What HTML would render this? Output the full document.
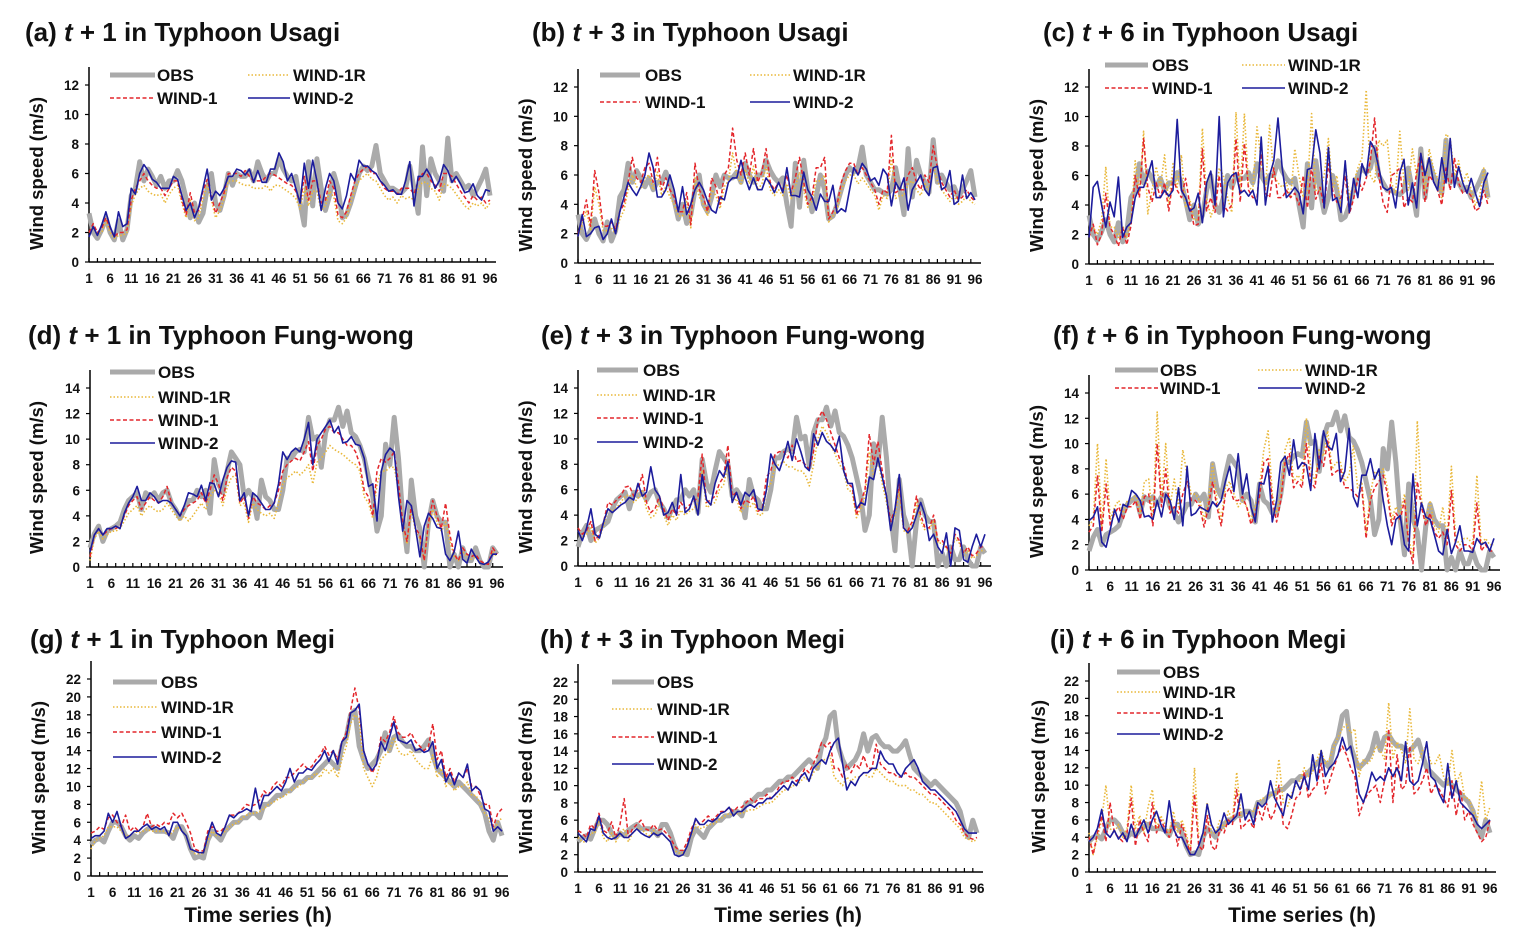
<!DOCTYPE html>
<html><head><meta charset="utf-8"><style>
html,body{margin:0;padding:0;background:#fff;}
svg{display:block;font-family:"Liberation Sans",Arial,sans-serif;}
.ttl{font-size:26px;font-weight:bold;fill:#111;}
.tk{font-size:13.5px;font-weight:bold;fill:#111;}
.yt{font-size:18.5px;font-weight:bold;fill:#111;}
.lg{font-size:17px;font-weight:bold;fill:#111;}
.xt{font-size:21px;font-weight:bold;fill:#111;}
</style></head><body>
<svg id="fig" width="1518" height="936" viewBox="0 0 1518 936" xmlns="http://www.w3.org/2000/svg"></svg>
<script>
// ---- Observed series per typhoon ----
const obsUsagi=[3.3,2.0,1.6,2.2,3.0,2.0,1.5,2.8,1.5,2.2,4.5,5.0,6.8,5.5,6.3,5.8,5.2,5.8,5.0,5.5,5.5,6.2,5.5,4.3,3.0,4.0,2.7,3.3,5.0,6.0,4.0,3.5,4.5,6.0,5.2,6.0,5.8,5.8,6.2,5.5,6.8,6.0,5.5,6.0,6.0,7.0,6.3,5.8,5.5,5.8,4.0,2.5,6.8,3.8,7.0,5.0,3.5,4.5,6.0,5.0,3.0,3.2,4.0,5.0,6.0,6.5,6.2,6.5,7.9,6.0,5.5,5.0,5.0,4.8,4.7,5.0,6.5,5.0,3.3,7.8,4.5,7.0,6.0,5.5,4.8,8.4,5.5,6.0,5.5,5.0,5.2,4.5,5.0,5.6,6.3,4.5];
const obsFung=[1.5,2.6,3.2,2.0,2.8,3.0,3.2,3.5,4.5,5.2,5.5,5.8,4.5,5.8,5.5,5.8,5.2,5.8,6.0,5.0,4.5,3.8,4.5,5.2,5.2,6.0,5.5,6.0,4.2,8.4,6.5,5.8,7.5,9.0,8.5,8.0,5.5,6.0,5.5,3.8,6.8,5.5,5.2,4.5,4.5,6.0,8.5,8.5,9.0,9.2,9.0,11.7,10.0,10.2,7.8,10.5,11.5,11.5,12.5,11.0,12.2,10.5,10.2,9.5,8.5,7.0,5.5,2.8,4.0,9.6,8.0,11.7,8.5,4.0,1.2,6.8,4.0,3.0,0.0,3.5,5.2,4.0,3.5,3.5,0.0,1.0,0.0,1.5,0.5,0.5,1.5,0.5,0.0,0.0,1.5,1.0];
const obsMegi=[3.5,4.0,4.2,3.8,5.0,6.0,6.0,5.5,4.5,4.0,4.5,4.2,4.8,5.2,5.5,5.0,5.0,5.0,4.8,4.2,5.5,5.5,4.5,3.0,2.0,2.2,2.0,4.0,5.0,4.5,4.0,5.0,5.5,6.0,6.0,6.5,6.5,7.0,7.0,6.5,8.0,8.0,8.5,9.0,9.0,9.5,9.5,10.0,10.5,10.5,11.0,11.0,11.5,12.0,12.5,13.0,12.5,12.0,14.5,15.5,18.0,18.5,14.5,13.0,12.0,12.5,13.0,14.0,16.0,14.0,15.5,15.8,15.0,14.5,14.5,14.0,14.0,14.5,15.2,13.5,12.0,11.5,11.0,10.5,10.0,10.5,10.0,9.5,9.0,8.5,8.0,7.0,5.0,4.0,6.0,4.5];
// ---- Panel (a) ----
const aW1R=[2.0,2.4,1.9,2.0,2.8,2.0,1.6,1.8,1.8,2.0,3.8,4.6,5.0,5.2,4.8,4.6,4.5,4.6,4.0,4.6,5.0,5.2,4.0,3.0,4.2,2.8,3.0,4.3,5.2,4.2,3.0,3.5,4.3,5.5,5.5,5.5,5.3,5.2,5.2,5.0,5.0,5.0,5.2,4.8,5.2,5.2,5.0,4.8,4.6,4.3,3.6,5.0,3.8,4.8,4.8,3.5,3.8,4.8,4.4,2.8,2.6,3.0,4.0,5.0,5.5,5.8,6.0,5.6,5.5,5.0,4.5,4.2,4.4,4.0,4.5,4.3,4.4,4.2,5.0,5.4,5.4,5.0,4.8,4.2,5.3,5.2,5.0,4.6,4.2,3.8,3.6,4.0,3.8,4.0,3.6,4.0];
const aW1=[2.0,2.6,2.0,2.3,3.0,2.3,1.7,2.0,2.0,2.2,4.2,5.0,5.5,6.0,5.5,5.2,5.0,5.0,4.5,5.0,5.5,5.5,4.2,3.2,4.7,3.3,3.5,4.8,5.6,4.5,3.3,4.0,4.7,6.0,6.0,6.0,5.8,6.2,5.8,5.5,5.5,5.5,5.8,6.0,5.9,5.7,5.5,5.3,5.2,4.8,4.0,5.8,4.2,5.5,5.5,4.0,4.2,5.5,5.0,3.2,3.0,3.4,4.5,5.5,6.0,6.3,6.5,6.0,6.0,5.5,5.0,4.8,4.8,4.6,5.0,5.0,5.0,4.6,5.5,6.0,6.0,5.5,5.2,4.8,6.0,6.0,5.8,5.3,4.8,4.4,4.0,4.5,4.2,4.4,4.0,4.2];
const aW2=[1.7,2.4,1.8,2.5,3.4,2.4,1.7,3.4,2.4,2.6,5.0,4.6,6.0,6.6,6.2,5.6,5.4,5.0,5.0,5.0,5.8,5.6,4.5,3.5,4.0,3.0,3.7,5.0,6.3,4.2,4.8,4.5,5.0,5.8,5.8,6.3,6.2,5.9,6.3,5.4,6.2,5.4,5.4,6.3,6.3,7.4,6.8,5.5,6.0,5.0,4.0,6.7,5.0,6.9,5.5,3.5,5.0,6.0,5.5,4.0,3.6,4.5,6.0,5.5,6.9,6.5,6.5,6.2,6.0,5.5,5.2,4.8,4.9,4.6,4.6,5.5,6.8,3.8,5.8,5.8,6.3,5.8,5.0,5.5,6.6,6.2,5.4,5.8,5.3,4.7,4.8,5.3,4.5,4.2,4.9,4.8];
// ---- Panel (b) ----
const bW1R=[1.8,2.6,3.6,2.2,5.2,4.0,2.2,2.2,2.4,2.0,3.0,3.6,5.0,6.0,5.2,5.0,5.8,6.0,5.0,6.2,4.6,5.2,4.5,4.0,3.2,3.2,4.2,2.4,5.8,4.5,4.0,3.2,5.0,4.6,3.7,5.2,5.6,7.5,6.0,5.4,6.4,5.4,6.6,5.0,5.4,6.6,5.0,4.6,5.0,4.6,5.4,4.4,5.2,6.2,5.0,3.8,4.2,5.6,5.6,6.0,2.8,3.2,3.6,5.0,5.6,6.0,6.0,5.4,5.8,5.4,5.0,4.6,3.6,4.6,4.4,7.2,4.4,4.6,4.6,5.4,5.6,5.0,4.6,5.4,5.0,6.6,5.6,5.0,4.6,4.2,4.6,4.0,4.2,4.6,4.2,4.0];
const bW1=[2.0,3.0,4.3,2.5,6.3,4.8,2.5,2.5,2.8,2.3,3.5,4.0,5.5,7.2,5.8,5.5,6.5,6.8,5.5,7.2,5.0,5.8,5.0,4.5,3.5,3.5,4.8,2.6,6.8,5.0,4.5,3.5,5.8,5.2,4.0,6.0,6.5,9.2,7.0,6.0,7.5,6.0,7.8,5.5,6.2,7.8,5.5,5.0,5.5,5.0,6.0,4.8,5.8,7.2,5.5,4.0,4.5,6.5,6.5,7.2,3.0,3.5,4.0,5.5,6.3,6.8,6.8,6.0,6.5,6.0,5.5,5.0,4.0,5.0,4.8,8.7,4.8,5.0,5.0,6.0,6.5,5.5,5.0,6.0,5.5,8.0,6.5,5.5,5.0,4.5,5.0,4.3,4.5,5.0,4.5,4.2];
const bW2=[1.8,3.3,1.8,2.0,2.4,2.5,1.6,2.0,3.0,2.0,3.5,4.5,5.5,5.0,4.6,5.2,6.0,7.5,6.5,4.5,4.5,5.0,6.0,5.0,3.5,5.2,3.3,4.0,5.0,5.5,5.0,4.2,3.6,3.4,4.5,4.3,5.5,5.8,5.8,7.0,5.8,5.0,5.8,5.0,5.0,5.8,5.4,4.8,5.5,4.8,6.5,4.6,4.6,4.5,6.2,5.0,4.5,3.6,4.7,4.2,4.2,5.3,3.4,3.7,3.5,5.0,6.5,6.0,6.8,6.4,5.6,5.8,5.3,6.4,6.0,3.9,5.5,5.0,5.8,3.6,5.0,5.5,6.0,5.0,4.6,6.5,6.6,5.0,5.2,6.3,4.0,4.2,6.0,4.4,4.8,4.3];
// ---- Panel (c) ----
const cW1R=[2.0,2.5,2.0,3.0,6.6,2.5,2.5,1.8,2.6,1.8,3.0,7.0,4.8,9.0,3.4,5.0,6.6,5.2,7.4,4.0,6.8,5.2,7.4,3.8,4.4,3.0,3.0,9.2,4.5,3.2,4.0,6.5,6.0,4.5,3.5,10.3,4.8,10.2,5.2,5.0,9.3,7.0,5.0,9.4,6.0,5.5,5.2,5.5,4.5,7.8,6.0,4.5,5.0,10.2,5.0,5.0,6.0,8.5,5.0,6.0,3.8,6.8,4.5,5.5,6.5,7.2,11.8,6.0,5.5,8.4,8.0,8.4,5.5,4.8,9.0,5.5,5.0,7.8,6.0,7.5,5.0,7.8,6.5,5.8,4.5,8.8,8.5,6.0,7.0,5.5,6.2,5.0,4.0,4.5,6.5,4.4];
const cW1=[1.8,2.7,1.3,2.0,4.8,2.5,2.0,1.2,2.5,1.3,2.6,6.0,4.5,8.5,5.2,4.2,5.5,4.5,5.5,3.6,5.8,5.0,4.5,5.8,4.0,2.6,2.7,7.8,3.6,4.5,3.5,6.0,4.0,3.6,4.0,8.5,4.2,8.2,5.0,4.5,4.5,7.5,4.8,4.5,6.5,4.5,4.5,5.0,4.5,4.8,4.0,6.0,3.8,6.6,4.4,5.2,3.8,6.8,5.0,4.2,4.5,6.0,3.4,4.4,5.8,5.0,5.8,7.0,9.9,6.0,4.2,3.5,6.0,6.2,6.5,3.8,4.5,4.2,6.2,7.5,4.2,6.0,5.6,5.0,4.0,6.5,5.0,7.2,5.5,4.8,5.0,4.6,3.6,3.8,5.0,4.0];
const cW2=[1.8,5.2,5.6,4.0,2.5,4.2,3.2,5.9,1.8,2.5,2.8,4.5,5.2,5.2,6.0,7.0,4.5,4.5,5.0,4.6,5.0,9.8,5.0,4.5,3.6,3.8,4.8,2.8,5.5,6.3,4.0,10.0,3.2,5.5,6.0,6.2,4.8,5.0,4.6,5.0,4.0,8.6,4.0,6.0,7.0,9.9,6.5,4.5,4.8,5.2,4.8,3.4,6.4,6.5,9.1,7.5,3.8,7.9,4.3,4.5,3.5,7.0,3.5,5.8,4.5,6.8,6.0,8.3,7.8,6.5,5.2,5.0,5.2,3.8,6.2,7.1,4.0,5.5,3.8,7.5,6.0,7.2,5.6,5.0,7.2,5.5,8.5,5.2,6.6,5.5,4.8,5.8,4.8,3.9,5.5,6.2];
// ---- Panel (d) ----
const dW1R=[0.5,2.2,2.8,2.2,2.5,2.8,2.8,3.0,3.6,4.2,4.5,4.8,4.0,4.5,4.8,4.5,4.3,4.5,5.0,4.5,4.0,3.6,4.0,3.6,4.0,4.5,5.0,4.5,5.5,6.0,5.8,4.8,6.2,7.0,7.2,4.8,5.0,3.5,5.0,4.5,4.2,4.0,4.2,3.8,5.0,6.5,7.0,7.2,7.5,7.2,7.5,8.0,6.5,8.2,8.5,9.0,9.5,9.2,9.0,8.8,8.5,8.2,8.0,7.5,5.5,5.0,3.8,6.5,7.5,7.5,7.8,7.8,6.0,3.2,1.8,4.5,2.8,2.2,0.5,3.2,4.5,3.5,2.8,3.5,2.0,0.8,0.5,1.2,0.8,0.6,0.8,0.4,0.2,0.2,1.2,0.8];
const dW1=[0.8,2.5,3.0,2.5,2.8,3.0,3.0,3.2,4.0,4.8,5.2,5.5,4.5,5.0,5.5,5.2,5.0,5.5,6.3,5.0,4.5,4.0,4.5,4.8,5.0,5.2,5.8,5.0,6.0,7.2,6.5,5.2,7.0,7.8,7.5,5.0,5.5,3.8,5.5,5.0,4.8,4.5,4.8,5.0,6.0,7.5,8.0,8.3,8.5,8.3,9.0,9.8,7.5,9.5,10.0,10.8,11.0,10.5,10.5,10.0,9.5,9.5,9.0,8.0,6.0,5.5,4.0,7.5,8.5,8.2,8.5,9.0,6.5,3.5,2.0,4.8,3.0,2.5,0.5,3.5,5.2,4.0,3.0,5.0,2.5,1.0,0.5,1.5,1.0,0.8,1.0,0.5,0.3,0.2,1.5,1.0];
const dW2=[1.2,2.5,3.0,2.5,3.0,3.0,3.2,3.0,4.2,5.0,5.5,6.3,5.2,5.2,5.8,5.5,5.0,5.2,5.2,5.0,4.5,4.0,4.8,5.8,5.7,5.5,6.4,5.2,6.6,6.5,5.5,6.8,7.8,8.3,8.2,5.2,5.8,4.0,5.8,5.5,5.0,4.5,4.5,5.0,6.5,9.0,8.4,9.0,9.3,9.0,10.0,11.3,8.0,10.0,10.5,11.0,11.5,10.5,11.0,9.7,9.8,10.2,9.6,9.5,8.5,6.3,6.5,3.6,7.5,8.8,9.3,9.0,5.5,2.8,5.2,4.8,3.0,0.8,3.2,4.2,3.8,3.1,3.0,1.0,0.5,1.2,2.8,0.6,0.3,1.4,0.8,0.3,0.2,0.4,1.0,1.0];
// ---- Panel (e) ----
const eW1R=[2.8,2.2,2.5,3.0,1.8,2.2,3.2,4.5,4.3,4.6,5.0,5.5,5.6,5.0,5.3,6.0,4.5,3.8,4.0,5.0,4.0,3.2,4.0,3.6,4.4,4.0,4.3,4.5,5.0,7.5,4.6,4.8,5.0,6.0,6.4,8.0,5.0,5.3,4.2,4.8,4.6,5.0,4.0,4.0,6.0,6.5,7.8,8.0,8.2,7.8,7.8,7.5,7.5,7.2,6.3,8.0,10.0,11.0,10.5,9.5,8.8,8.0,7.5,6.0,5.8,3.8,4.5,5.5,9.0,7.0,8.5,6.5,5.0,3.2,4.0,5.8,2.8,2.5,3.2,5.0,3.6,2.8,2.8,3.6,1.8,1.8,1.4,0.8,2.2,1.8,0.8,1.2,0.6,0.8,1.2,1.2];
const eW1=[3.0,2.5,2.8,3.5,2.0,2.5,3.5,5.0,4.8,5.2,5.5,6.2,6.3,5.5,6.0,7.2,5.0,4.2,4.5,5.5,4.5,3.6,4.5,4.0,5.0,4.5,4.8,5.0,5.5,8.8,5.0,5.2,5.5,6.5,7.0,9.5,5.5,5.8,4.5,5.2,5.0,5.5,4.3,4.5,7.0,7.5,8.8,9.0,9.0,8.5,9.5,8.2,8.3,8.0,7.6,9.0,11.5,12.2,11.5,10.5,9.5,8.5,8.0,6.5,6.2,4.0,5.0,6.0,10.4,8.0,9.8,7.5,5.5,3.5,4.5,6.5,3.0,2.8,3.5,5.5,4.0,3.0,3.0,4.0,2.0,2.0,1.5,1.0,2.5,2.0,1.0,1.5,0.8,1.0,1.5,1.5];
const eW2=[2.8,2.0,3.0,4.5,2.5,2.2,3.5,4.5,4.2,4.5,4.8,5.0,5.4,5.2,6.5,5.5,5.8,7.8,6.0,5.5,4.0,4.2,5.0,4.0,7.2,4.2,4.5,5.5,4.0,7.2,5.2,4.8,6.5,7.5,7.0,8.2,5.0,5.8,4.8,5.8,5.5,6.0,4.5,4.4,6.0,8.8,8.0,7.5,8.5,9.8,8.3,10.0,9.0,7.8,7.5,10.4,9.5,10.5,9.8,9.5,9.0,10.2,7.5,6.5,6.5,4.5,5.0,4.8,7.0,6.8,8.5,7.0,5.5,2.8,4.5,7.2,3.0,2.6,3.0,4.0,5.0,4.0,2.0,2.5,1.5,1.0,2.6,0.0,3.0,2.8,0.5,0.3,1.5,2.5,1.5,2.5];
// ---- Panel (f) ----
const fW1R=[3.5,4.0,10.0,3.5,8.8,4.0,5.0,5.5,4.5,5.5,5.5,6.0,4.5,7.0,7.2,4.0,12.5,5.5,10.0,5.0,7.2,5.0,9.5,7.5,6.0,6.0,5.5,4.0,5.5,8.5,5.5,4.0,6.5,7.0,6.0,5.0,5.5,5.0,4.0,5.0,6.5,9.5,11.0,6.0,4.5,6.0,9.5,10.5,7.0,7.5,7.0,12.0,8.0,7.0,9.5,9.0,11.0,8.0,8.5,8.5,7.0,7.5,9.8,6.5,7.0,3.0,6.0,7.8,7.5,8.0,6.5,4.0,5.0,4.5,6.0,2.5,1.0,11.8,5.5,4.0,5.5,3.5,3.0,5.0,2.5,8.2,2.5,2.0,2.5,2.5,2.0,7.5,2.0,2.5,2.0,2.0];
const fW1=[3.0,3.5,7.5,3.0,6.8,3.5,4.5,5.0,4.0,5.0,5.0,5.5,4.0,5.8,6.0,3.5,10.0,5.0,8.0,4.5,5.0,4.5,6.0,7.0,5.5,5.5,5.0,3.4,5.0,7.0,5.0,3.5,6.0,6.5,5.5,5.5,5.8,5.0,3.6,4.5,5.8,8.5,8.8,5.5,3.8,5.5,8.5,9.2,6.5,7.0,6.5,10.0,7.0,6.5,9.0,8.2,10.2,7.5,7.8,8.0,6.5,6.5,6.2,5.8,6.5,2.5,5.5,6.5,7.0,7.5,6.0,3.5,4.5,4.0,5.5,2.0,0.5,7.0,5.0,3.5,4.5,3.0,2.5,3.0,2.0,6.3,2.0,1.5,2.0,2.0,1.5,5.3,1.5,2.0,1.5,1.5];
const fW2=[3.9,4.2,5.0,2.2,1.8,3.2,4.8,3.8,5.2,5.0,6.3,6.0,5.5,4.2,4.3,4.0,5.5,4.2,6.0,5.5,4.0,6.5,3.5,8.2,4.3,4.5,5.0,4.8,4.6,5.4,5.0,5.5,7.0,8.2,6.2,9.2,6.0,7.6,5.0,3.8,6.9,6.8,8.2,3.8,5.5,8.5,9.0,7.5,10.3,8.0,8.5,8.3,6.3,10.8,8.0,11.0,9.8,9.5,10.8,7.0,7.8,11.2,5.8,5.0,7.5,7.5,8.8,7.2,8.0,5.5,3.5,2.0,4.0,4.3,2.0,1.5,7.6,3.5,5.3,4.2,4.0,2.8,1.5,1.2,3.2,1.3,2.2,3.5,1.5,1.5,1.4,2.5,2.0,2.2,1.5,2.5];
// ---- Panel (g) ----
const gW1R=[3.0,4.0,4.2,4.5,5.5,5.5,5.5,5.0,4.5,4.5,5.0,4.8,5.0,5.2,5.0,5.0,5.0,5.0,4.5,5.0,5.5,5.0,4.5,3.0,2.5,2.5,2.5,4.0,5.0,4.5,4.5,5.0,5.5,5.8,6.0,6.5,6.8,7.0,7.0,7.2,7.5,8.0,8.2,8.5,8.8,9.0,9.5,9.8,10.0,10.5,10.8,11.0,11.5,11.0,12.0,11.5,12.0,11.0,13.0,14.5,17.0,18.0,17.5,12.0,11.0,10.0,11.0,13.0,13.5,14.0,15.5,14.0,13.5,13.5,14.0,13.0,12.5,12.0,12.0,13.5,11.0,12.0,10.0,10.5,9.5,10.0,10.0,10.5,9.0,9.0,8.0,7.0,6.5,5.0,6.0,6.5];
const gW1=[4.8,5.0,5.5,5.2,6.5,6.8,6.0,5.5,6.8,5.0,5.5,5.0,5.5,7.0,5.5,5.8,5.5,6.0,5.8,7.0,6.5,7.0,6.0,4.8,3.0,2.8,2.8,5.0,5.5,5.0,5.0,5.5,6.8,6.8,7.0,7.5,8.0,7.8,8.0,8.5,9.5,9.0,10.0,10.5,10.0,11.0,11.0,11.5,12.0,12.5,12.0,12.2,13.0,13.5,14.5,13.5,14.0,13.0,15.0,16.0,18.5,21.0,18.5,14.0,12.5,11.5,12.5,15.5,15.0,16.0,17.8,16.0,15.5,15.5,16.0,15.0,14.5,14.0,14.5,17.0,13.0,14.0,11.0,12.0,10.5,11.5,11.0,12.0,10.0,10.0,9.0,8.0,8.0,5.5,7.0,7.5];
const gW2=[4.2,4.5,4.5,5.0,7.0,6.0,7.2,5.5,4.2,4.5,5.0,5.0,5.5,5.8,5.2,5.5,5.2,5.5,4.5,6.0,6.0,5.0,4.5,3.0,2.8,2.6,2.6,4.5,6.0,4.8,4.5,5.5,6.8,6.5,7.0,7.2,7.5,7.2,9.8,7.5,9.0,9.0,9.5,10.0,9.5,10.5,12.0,10.5,11.5,11.5,12.0,11.8,12.5,13.0,14.0,12.8,14.0,12.5,15.0,15.5,18.2,18.5,19.2,14.0,12.5,11.8,12.5,15.0,14.0,15.5,17.2,15.2,15.0,14.8,15.2,14.0,14.2,13.8,14.0,15.0,12.0,13.0,10.5,11.5,10.2,11.5,11.0,12.5,9.5,10.0,9.5,7.5,7.2,5.0,5.5,5.0];
// ---- Panel (h) ----
const hW1R=[4.0,3.5,3.5,4.5,4.5,6.0,4.0,3.5,4.5,3.5,4.5,5.0,3.5,4.5,5.0,5.0,4.5,4.2,4.8,4.2,4.5,4.0,3.5,2.5,2.2,2.2,3.2,4.2,5.5,5.0,5.2,5.5,5.5,5.8,6.2,6.5,6.8,6.5,6.8,6.8,7.0,7.2,7.2,7.5,7.8,8.0,8.0,8.5,9.0,9.5,9.5,10.0,10.0,10.5,11.0,10.5,11.5,12.0,13.0,13.0,13.5,11.0,10.5,10.0,11.0,10.5,11.0,11.0,11.5,11.0,11.0,12.0,11.5,11.0,10.5,10.5,10.0,10.0,10.0,9.5,9.5,9.0,9.0,8.5,8.0,8.0,7.5,7.0,6.5,6.0,5.5,5.0,4.0,3.8,3.5,3.8];
const hW1=[4.8,4.5,4.0,5.5,5.0,6.8,4.8,4.5,5.8,4.0,5.5,8.5,4.0,5.0,5.5,6.0,5.0,4.8,5.5,4.8,5.0,4.5,4.0,3.0,2.5,2.5,3.5,5.0,6.0,5.5,6.0,6.5,6.0,6.5,7.0,7.0,7.5,7.0,7.5,7.5,8.0,8.5,8.0,8.5,8.5,9.0,8.5,9.0,10.0,10.5,10.5,11.0,10.5,11.0,12.0,11.5,12.5,13.5,15.0,14.5,15.0,12.0,12.0,11.0,12.5,11.5,12.5,12.0,13.5,12.0,12.0,14.8,12.5,12.0,11.5,11.5,11.0,11.0,11.5,11.0,11.0,10.5,10.0,9.5,9.0,9.0,8.5,8.0,7.5,7.0,6.0,5.5,4.5,4.0,3.8,4.0];
const hW2=[4.5,4.0,3.5,5.0,4.8,6.5,4.5,4.0,3.8,4.0,4.5,4.0,4.0,4.5,5.0,4.5,4.2,4.0,4.5,4.2,4.5,4.0,3.5,2.0,1.8,2.0,3.0,4.5,6.2,5.5,5.5,6.0,5.8,6.2,6.8,7.0,7.5,6.5,7.0,7.0,7.5,7.8,7.5,8.0,8.0,8.5,8.5,9.0,9.5,10.0,9.5,10.5,10.0,11.0,11.5,10.5,12.0,12.5,13.0,12.5,14.0,15.0,15.5,12.5,9.5,10.5,10.0,11.0,11.5,11.5,12.0,12.0,14.0,13.0,12.5,12.5,11.5,11.0,12.0,12.5,13.0,12.0,10.5,10.0,9.5,9.5,9.0,8.5,8.0,7.5,7.0,6.0,5.0,4.5,4.5,4.5];
// ---- Panel (i) ----
const iW1R=[4.5,2.0,4.0,6.0,10.0,5.0,4.5,5.5,4.0,5.0,10.0,5.0,6.5,4.5,7.5,9.5,5.0,6.5,5.5,4.5,7.0,4.5,6.0,4.5,2.5,12.0,4.0,4.0,8.0,4.5,4.5,6.0,5.0,7.0,6.0,11.5,6.5,6.5,7.0,7.0,8.0,8.5,8.5,9.0,8.5,13.0,8.0,7.5,9.0,10.0,10.5,12.0,11.0,11.5,13.0,14.0,12.5,13.0,14.5,15.5,16.5,17.0,16.0,16.5,11.0,13.0,12.5,13.0,14.5,14.0,13.0,19.5,13.0,15.0,14.0,12.5,18.8,13.0,12.5,14.0,14.5,12.5,12.5,13.5,11.0,10.0,14.0,10.0,11.5,8.5,8.5,7.0,6.0,10.5,6.0,7.5];
const iW1=[4.0,2.0,4.5,6.5,3.5,8.0,4.5,4.0,3.5,4.5,8.5,3.0,6.0,4.5,3.5,8.0,4.5,6.0,5.0,4.0,6.0,3.0,5.5,4.0,2.0,9.0,3.0,2.5,6.5,3.0,2.5,5.0,4.5,6.0,5.5,9.5,5.0,5.5,6.0,5.0,7.5,6.0,8.0,6.0,7.0,10.0,5.5,5.0,6.5,8.5,9.0,11.5,8.5,9.5,10.0,12.5,9.0,10.5,12.0,13.5,14.5,13.5,12.0,11.0,6.5,8.0,9.0,9.5,10.0,8.0,10.5,16.5,8.0,13.5,9.5,10.0,14.5,9.0,9.5,10.5,12.0,9.0,10.0,9.5,8.5,7.5,10.5,6.5,9.5,6.0,7.0,5.5,4.5,3.5,4.0,6.0];
const iW2=[3.5,4.0,5.0,7.2,4.5,4.0,4.8,3.8,4.5,3.5,5.5,4.0,5.0,6.0,4.5,6.0,7.0,5.5,4.5,8.2,5.0,4.0,4.0,3.0,2.0,2.0,3.0,4.5,7.8,5.5,4.5,5.0,6.8,5.5,6.0,6.5,9.0,6.0,7.0,5.5,8.0,7.5,8.0,10.5,8.5,7.5,6.5,9.0,8.5,10.5,9.5,11.0,9.5,13.5,10.5,14.0,11.0,12.0,12.5,13.5,15.5,14.0,14.5,12.0,9.0,8.0,9.5,11.5,10.5,11.0,10.5,12.0,11.0,12.0,10.5,15.0,10.5,10.0,10.5,12.5,15.0,11.0,10.5,9.0,8.0,12.5,8.5,10.5,8.0,7.5,7.0,6.5,5.5,5.0,5.5,6.0];
// ---- Tick labels ----
const xTickLabels=[1,6,11,16,21,26,31,36,41,46,51,56,61,66,71,76,81,86,91,96];
const seriesNames=["OBS","WIND-1R","WIND-1","WIND-2"];

const NS="http://www.w3.org/2000/svg";
const svg=document.getElementById('fig');
function mk(tag,attrs,parent){const e=document.createElementNS(NS,tag);for(const k in attrs)e.setAttribute(k,attrs[k]);(parent||svg).appendChild(e);return e;}
const styles={
 "OBS":{stroke:"#aaaaaa",w:5,dash:""},
 "WIND-1R":{stroke:"#e9b83a",w:1.6,dash:"1.5 2"},
 "WIND-1":{stroke:"#e3262b",w:1.5,dash:"4 2.5"},
 "WIND-2":{stroke:"#1c1c9c",w:1.6,dash:""}
};
const panels=[
 {id:"a",title:["(a) ","t"," + 1 in Typhoon Usagi"],tx:25,ty:41,ax:89,x96:490,y0:262,yTopPx:85,yMax:12,yl:38,obs:obsUsagi,w1r:aW1R,w1:aW1,w2:aW2,
  leg:[[110,155,157,75],[248,290,293,75],[110,155,157,98],[248,290,293,98]],legOrder:["OBS","WIND-1R","WIND-1","WIND-2"]},
 {id:"b",title:["(b) ","t"," + 3 in Typhoon Usagi"],tx:532,ty:41,ax:578,x96:975,y0:263,yTopPx:87,yMax:12,yl:527,obs:obsUsagi,w1r:bW1R,w1:bW1,w2:bW2,
  leg:[[600,640,645,75],[750,790,793,75],[600,640,645,102],[750,790,793,102]],legOrder:["OBS","WIND-1R","WIND-1","WIND-2"]},
 {id:"c",title:["(c) ","t"," + 6 in Typhoon Usagi"],tx:1043,ty:41,ax:1089,x96:1488,y0:264,yTopPx:87,yMax:12,yl:1038,obs:obsUsagi,w1r:cW1R,w1:cW1,w2:cW2,
  leg:[[1105,1148,1152,65],[1242,1285,1288,65],[1105,1148,1152,88],[1242,1285,1288,88]],legOrder:["OBS","WIND-1R","WIND-1","WIND-2"]},
 {id:"d",title:["(d) ","t"," + 1 in Typhoon Fung-wong"],tx:28,ty:344,ax:90,x96:497,y0:567,yTopPx:388,yMax:14,yl:38,obs:obsFung,w1r:dW1R,w1:dW1,w2:dW2,
  leg:[[110,155,158,372],[110,155,158,397],[110,155,158,420],[110,155,158,443]],legOrder:["OBS","WIND-1R","WIND-1","WIND-2"]},
 {id:"e",title:["(e) ","t"," + 3 in Typhoon Fung-wong"],tx:541,ty:344,ax:578,x96:985,y0:566,yTopPx:388,yMax:14,yl:527,obs:obsFung,w1r:eW1R,w1:eW1,w2:eW2,
  leg:[[597,638,643,370],[597,638,643,395],[597,638,643,418],[597,638,643,442]],legOrder:["OBS","WIND-1R","WIND-1","WIND-2"]},
 {id:"f",title:["(f) ","t"," + 6 in Typhoon Fung-wong"],tx:1053,ty:344,ax:1089,x96:1494,y0:570,yTopPx:393,yMax:14,yl:1038,obs:obsFung,w1r:fW1R,w1:fW1,w2:fW2,
  leg:[[1115,1158,1160,370],[1258,1302,1305,370],[1115,1158,1160,388],[1258,1302,1305,388]],legOrder:["OBS","WIND-1R","WIND-1","WIND-2"]},
 {id:"g",title:["(g) ","t"," + 1 in Typhoon Megi"],tx:30,ty:648,ax:91,x96:502,y0:876,yTopPx:679,yMax:22,yl:40,obs:obsMegi,w1r:gW1R,w1:gW1,w2:gW2,
  leg:[[113,157,161,682],[113,157,161,707],[113,157,161,732],[113,157,161,757]],legOrder:["OBS","WIND-1R","WIND-1","WIND-2"],xt:258},
 {id:"h",title:["(h) ","t"," + 3 in Typhoon Megi"],tx:540,ty:648,ax:578,x96:977,y0:872,yTopPx:682,yMax:22,yl:527,obs:obsMegi,w1r:hW1R,w1:hW1,w2:hW2,
  leg:[[612,654,657,682],[612,654,657,709],[612,654,657,737],[612,654,657,764]],legOrder:["OBS","WIND-1R","WIND-1","WIND-2"],xt:788},
 {id:"i",title:["(i) ","t"," + 6 in Typhoon Megi"],tx:1050,ty:648,ax:1089,x96:1490,y0:872,yTopPx:681,yMax:22,yl:1040,obs:obsMegi,w1r:iW1R,w1:iW1,w2:iW2,
  leg:[[1117,1160,1163,672],[1117,1160,1163,692],[1117,1160,1163,713],[1117,1160,1163,734]],legOrder:["OBS","WIND-1R","WIND-1","WIND-2"],xt:1302}
];

panels.forEach(p=>{
 const g=mk('g',{});
 
 
 const xs=i=>p.ax+i*(p.x96-p.ax)/95;
 const ys=v=>p.y0-Math.max(0,v)*(p.y0-p.yTopPx)/p.yMax;
 const t=mk('text',{x:p.tx,y:p.ty,class:'ttl'},g);
 
 
 p.title.forEach((s,k)=>{const ts=mk('tspan',{},t);ts.textContent=s;if(k===1)ts.setAttribute('font-style','italic');});
 const yAx=mk('line',{x1:p.ax,y1:p.y0,x2:p.ax,y2:p.yTopPx-18,stroke:'#000','stroke-width':1.5},g);
 
 
 const xAx=mk('line',{x1:p.ax,y1:p.y0,x2:p.x96+6,y2:p.y0,stroke:'#000','stroke-width':1.5},g);
 
 
 for(let v=0;v<=p.yMax;v+=2){
  mk('line',{x1:p.ax-4,y1:ys(v),x2:p.ax,y2:ys(v),stroke:'#000','stroke-width':1.2},g);
  const tl=mk('text',{x:p.ax-10,y:ys(v)+5,class:'tk','text-anchor':'end'},g);
  
  
  tl.textContent=v;
 }
 for(let i=0;i<96;i+=2){mk('line',{x1:xs(i),y1:p.y0,x2:xs(i),y2:p.y0-4,stroke:'#000','stroke-width':1.2},g);}
 xTickLabels.forEach(lb=>{
  const tl=mk('text',{x:xs(lb-1),y:p.y0+21,class:'tk','text-anchor':'middle'},g);
  
  
  tl.textContent=lb;
 });
 const yc=(p.y0+p.yTopPx)/2;
 const yt=mk('text',{x:p.yl,y:yc,class:'yt','text-anchor':'middle',transform:'rotate(-90 '+p.yl+' '+yc+')','dominant-baseline':'middle'},g);
 
 
 yt.textContent='Wind speed (m/s)';
 if(p.xt){
  const xt=mk('text',{x:p.xt,y:922,class:'xt','text-anchor':'middle'},g);
  
  
  xt.textContent='Time series (h)';
 }
 const data={"OBS":p.obs,"WIND-1R":p.w1r,"WIND-1":p.w1,"WIND-2":p.w2};
 seriesNames.forEach(n=>{
  const st=styles[n];
  const pts=data[n].map((v,i)=>xs(i).toFixed(1)+','+ys(v).toFixed(1)).join(' ');
  const pl=mk('polyline',{points:pts,fill:'none',stroke:st.stroke,'stroke-width':st.w,'stroke-linejoin':'round','stroke-dasharray':st.dash},g);
  
  
 });
 p.legOrder.forEach((n,k)=>{
  const L=p.leg[k];const st=styles[n];
  const lg=mk('g',{},g);
  
  
  mk('line',{x1:L[0],y1:L[3],x2:L[1],y2:L[3],stroke:st.stroke,'stroke-width':st.w,'stroke-dasharray':st.dash},lg);
  const tx=mk('text',{x:L[2],y:L[3]+6,class:'lg'},lg);
  tx.textContent=n;
 });
});
</script>
</body></html>
